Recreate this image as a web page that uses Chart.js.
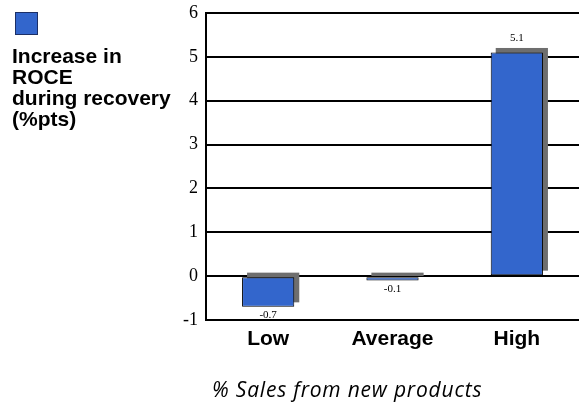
<!DOCTYPE html>
<html>
<head>
<meta charset="utf-8">
<title>Increase in ROCE during recovery</title>
<script src="https://cdn.jsdelivr.net/npm/chart.js@4.4.1/dist/chart.umd.min.js"></script>
<style>
  html, body { margin: 0; padding: 0; background: #fff; }
  #wrap { position: relative; width: 579px; height: 409px; }
  #chart { position: absolute; left: 0; top: 0; }
  #legendBox {
    position: absolute; left: 15px; top: 12px; width: 21px; height: 21px;
    background: #3366cc; border: 1px solid #1c2f66;
  }
  #legendText {
    position: absolute; left: 12px; top: 45px;
    font: bold 21px 'Liberation Sans', Arial, sans-serif; line-height: 21px; color: #000;
  }
  #xTitle {
    position: absolute; left: 212px; top: 377px;
    font: italic 21px 'Open Sans', Lato, sans-serif; line-height: 24px; color: #000;
    letter-spacing: 0.8px; white-space: nowrap;
  }
</style>
</head>
<body>
<div id="wrap">
  <canvas id="chart" width="579" height="409"></canvas>
  <div id="legendBox"></div>
  <div id="legendText">Increase in<br>ROCE<br>during recovery<br>(%pts)</div>
  <div id="xTitle">% Sales from new products</div>
</div>
<script>
// Chart data
const categories = ['Low', 'Average', 'High'];
const roceIncrease = [-0.7, -0.1, 5.1];
const yTickValues = [-1, 0, 1, 2, 3, 4, 5, 6];

const barColor = '#3366cc';
const shadowColor = '#6e6e6e';

// Gray offset block behind each bar
const barShadow = {
    id: 'barShadow',
    beforeDatasetsDraw(chart) {
        const ctx = chart.ctx;
        const meta = chart.getDatasetMeta(0);
        ctx.save();
        ctx.fillStyle = shadowColor;
        meta.data.forEach(bar => {
            const top = Math.min(bar.y, bar.base);
            const h = Math.abs(bar.base - bar.y);
            ctx.fillRect(bar.x - bar.width / 2 + 5, top - 4.5, bar.width, h);
        });
        ctx.restore();
    }
};

// Value printed above positive bars, below negative ones
const valueLabels = {
    id: 'valueLabels',
    afterDatasetsDraw(chart) {
        const ctx = chart.ctx;
        const meta = chart.getDatasetMeta(0);
        ctx.save();
        ctx.font = '11px "Liberation Serif", "Times New Roman", serif';
        ctx.fillStyle = '#000';
        ctx.textAlign = 'center';
        meta.data.forEach((bar, i) => {
            const v = roceIncrease[i];
            if (v >= 0) {
                ctx.textBaseline = 'alphabetic';
                ctx.fillText(v.toFixed(1), bar.x, bar.y - 11);
            } else {
                ctx.textBaseline = 'top';
                ctx.fillText(v.toFixed(1), bar.x, bar.y + 3);
            }
        });
        ctx.restore();
    }
};

new Chart(document.getElementById('chart'), {
    type: 'bar',
    data: {
        labels: categories,
        datasets: [{
            data: roceIncrease,
            backgroundColor: barColor,
            borderColor: '#000',
            borderWidth: 1,
            borderSkipped: false,
            categoryPercentage: 1,
            barPercentage: 0.42
        }]
    },
    options: {
        responsive: false,
        animation: false,
        layout: { padding: { top: 13, left: 0, right: 0, bottom: 0 } },
        plugins: {
            legend: { display: false },
            tooltip: { enabled: false }
        },
        scales: {
            x: {
                grid: { display: false, drawTicks: false },
                border: { display: false },
                ticks: {
                    color: '#000',
                    padding: 7,
                    font: { family: '"Liberation Sans", Arial, sans-serif', size: 21, weight: 'bold' }
                },
                afterFit(scale) { scale.height = 89; }
            },
            y: {
                min: -1,
                max: 6,
                afterBuildTicks(scale) {
                    scale.ticks = yTickValues.map(v => ({ value: v }));
                },
                grid: { color: '#000', lineWidth: 2, drawTicks: false },
                border: { display: true, color: '#000', width: 2 },
                ticks: {
                    color: '#000',
                    padding: 8,
                    font: { family: '"Liberation Serif", "Times New Roman", serif', size: 18 }
                },
                afterFit(scale) {
                    scale.width = 206;
                    scale.paddingTop = 0;
                    scale.paddingBottom = 0;
                }
            }
        }
    },
    plugins: [barShadow, valueLabels]
});
</script>
</body>
</html>
